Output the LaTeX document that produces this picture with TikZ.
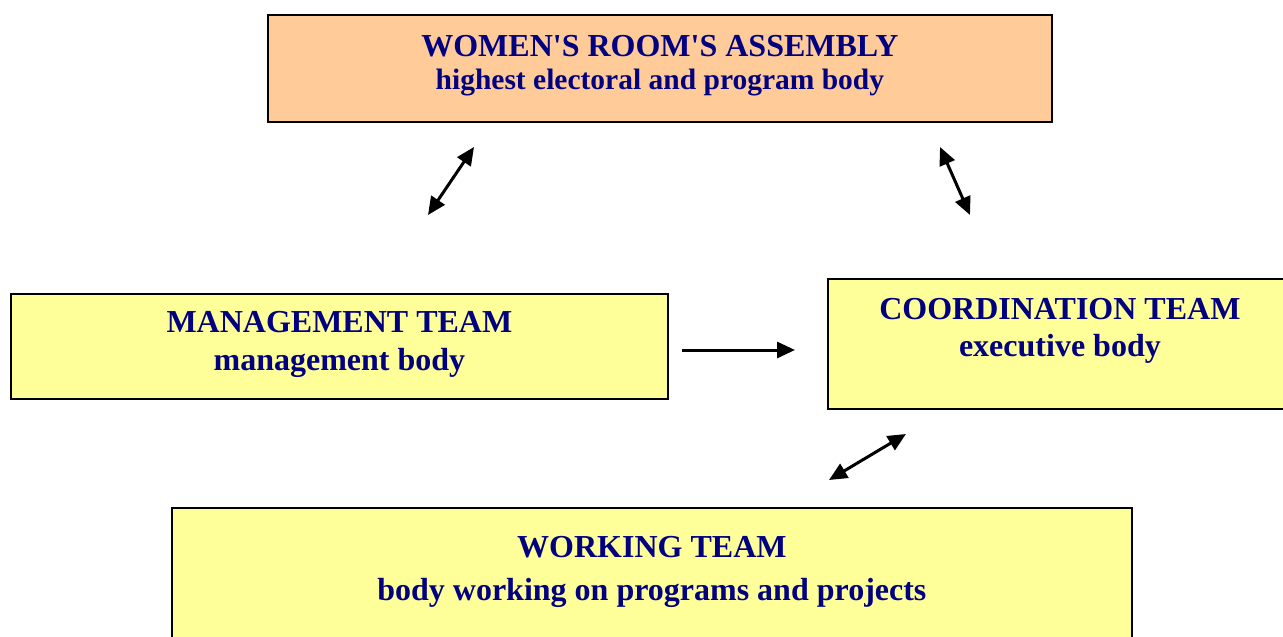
\documentclass[tikz,border=0pt]{standalone}
\usepackage{fontspec}
\setmainfont{Liberation Serif}
\usetikzlibrary{arrows.meta,positioning}
\definecolor{peach}{HTML}{FFCC99}
\definecolor{paleyellow}{HTML}{FFFF99}
\definecolor{navytext}{HTML}{000080}

\begin{document}
\begin{tikzpicture}[x=1pt,y=-1pt,
  box/.style={draw=black,line width=1.8pt,inner sep=0pt,anchor=north west},
  head/.style={text=navytext,font=\fontsize{32}{38}\selectfont\bfseries,anchor=base,inner sep=0pt},
  link/.style={line width=3pt,-{Triangle[length=18pt,width=16pt]}},
  both/.style={line width=3pt,{Triangle[length=18pt,width=16pt]}-{Triangle[length=18pt,width=16pt]}}]
\useasboundingbox (0,0) rectangle (1283,637);

% boxes
\node[box,fill=peach,minimum width=784pt,minimum height=107pt] (assembly) at (267,14) {};
\node[box,fill=paleyellow,minimum width=657pt,minimum height=105pt] (management) at (10,293) {};
\node[box,fill=paleyellow,minimum width=464pt,minimum height=130pt] (coordination) at (827,278) {};
\node[box,fill=paleyellow,minimum width=960pt,minimum height=140pt] (working) at (171,507) {};

% texts
\node[head] (assemblyA) at ([yshift=-42pt]assembly.north) {WOMEN\textquotesingle S ROOM\textquotesingle S ASSEMBLY};
\node[head,font=\fontsize{29.5}{35}\selectfont\bfseries] (assemblyB) at ([yshift=-75pt]assembly.north) {highest electoral and program body};
\node[head] (managementA) at ([yshift=-39pt]management.north) {MANAGEMENT TEAM};
\node[head] (managementB) at ([yshift=-77pt]management.north) {management body};
\node[head] (coordinationA) at ([yshift=-41pt]coordination.north) {COORDINATION TEAM};
\node[head] (coordinationB) at ([yshift=-78pt]coordination.north) {executive body};
\node[head] (workingA) at ([yshift=-50pt]working.north) {WORKING TEAM};
\node[head] (workingB) at ([yshift=-93pt]working.north) {body working on programs and projects};

% arrows
\coordinate (mgUp) at (474,147);
\coordinate (mgDown) at (428,215);
\coordinate (coUp) at (940,147);
\coordinate (coDown) at (970,215);
\coordinate (mgRight) at (682,350);
\coordinate (coLeft) at (795,350);
\coordinate (wkUp) at (906,434);
\coordinate (wkDown) at (829,480);
\draw[both] (mgDown) -- (mgUp);
\draw[both] (coDown) -- (coUp);
\draw[link] (mgRight) -- (coLeft);
\draw[both] (wkDown) -- (wkUp);
\end{tikzpicture}
\end{document}
